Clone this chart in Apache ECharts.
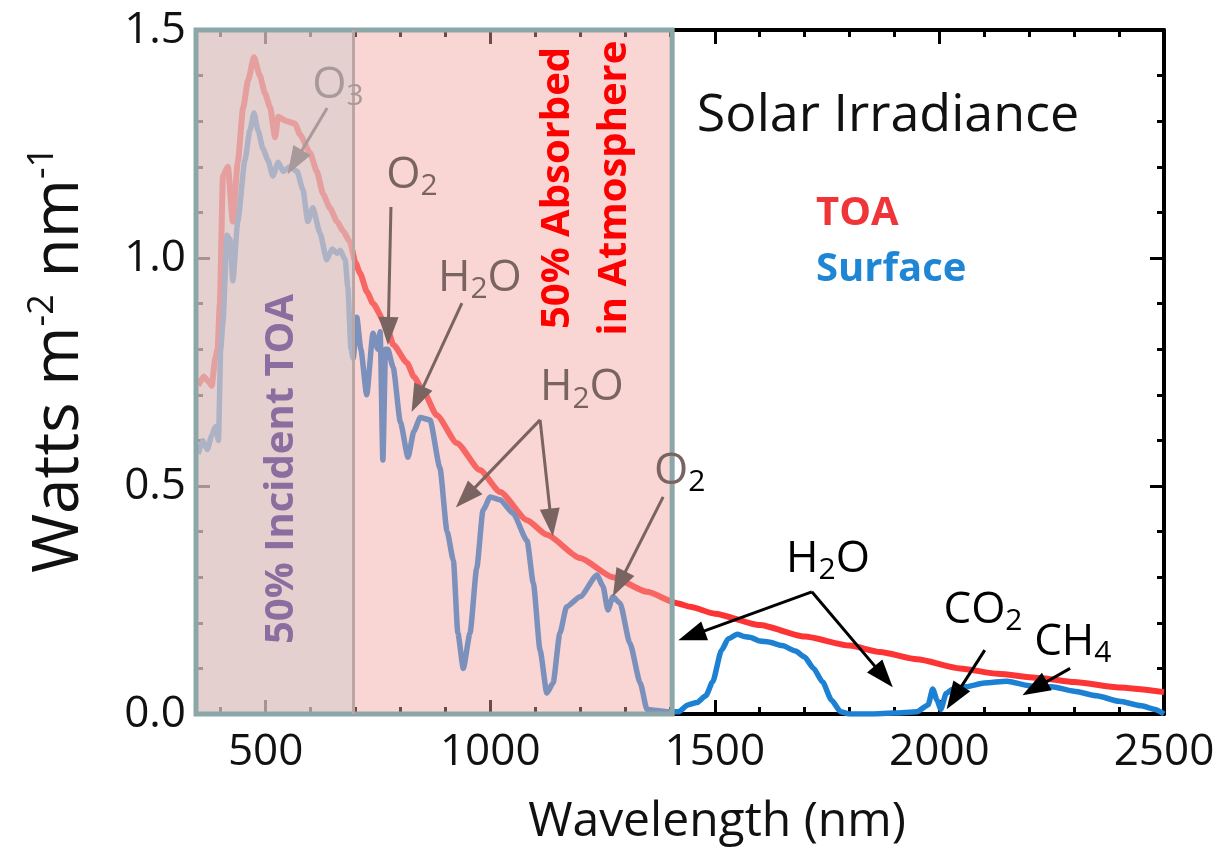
<!DOCTYPE html>
<html><head><meta charset="utf-8">
<script src="https://cdn.jsdelivr.net/npm/echarts@6.0.0/dist/echarts.min.js"></script>
<style>html,body{margin:0;padding:0;background:#fff}#c{width:1221px;height:859px}</style>
</head><body><div id="c"></div>
<script>
// ---------------- data ----------------
const toaWavelength = [350,362,372,380,388,393,398,405,416,427,438,450,461,474,487,499,510,521,528,547,565,577,599,614,628,643,659,672,688,700,710,726,739,770,784,815,830,850,881,926,977,1022,1082,1126,1200,1273,1349,1416,1445,1500,1600,1700,1800,1868,1950,2046,2130,2224,2300,2400,2500];
const toaIrradiance = [0.72,0.74,0.73,0.72,0.78,0.80,0.90,1.18,1.20,1.08,1.21,1.33,1.39,1.44,1.40,1.36,1.33,1.265,1.31,1.30,1.295,1.27,1.23,1.19,1.14,1.11,1.08,1.06,1.035,0.99,0.967,0.925,0.90,0.85,0.81,0.77,0.74,0.71,0.655,0.594,0.535,0.487,0.425,0.393,0.342,0.30,0.268,0.243,0.235,0.22,0.195,0.17,0.15,0.136,0.12,0.10,0.088,0.079,0.07,0.058,0.048];

const sfcWavelength = [350,360,370,380,388,395,400,405,414,421,427,438,454,465,474,483,494,505,516,528,539,554,570,583,594,605,621,636,648,659,666,677,683,690,695,703,712,725,739,750,755,761,767,772,784,800,817,830,844,866,888,904,918,928,940,955,970,984,1000,1022,1051,1082,1096,1111,1126,1140,1155,1170,1200,1238,1251,1262,1273,1289,1311,1334,1349,1393,1420,1440,1460,1480,1495,1515,1530,1550,1565,1580,1600,1620,1650,1680,1700,1720,1740,1760,1780,1800,1850,1900,1950,1975,1985,1995,2003,2015,2030,2060,2100,2150,2200,2220,2250,2300,2350,2400,2450,2480,2500];
const sfcIrradiance = [0.57,0.60,0.58,0.61,0.63,0.60,0.80,0.86,1.05,1.04,0.95,1.08,1.215,1.28,1.318,1.28,1.24,1.215,1.18,1.21,1.19,1.20,1.19,1.15,1.08,1.11,1.055,0.996,1.02,1.01,1.017,0.996,0.936,0.80,0.78,0.87,0.80,0.70,0.835,0.80,0.838,0.557,0.80,0.80,0.76,0.64,0.563,0.62,0.65,0.645,0.54,0.40,0.337,0.177,0.10,0.177,0.32,0.447,0.476,0.47,0.44,0.38,0.287,0.14,0.046,0.068,0.177,0.235,0.257,0.305,0.28,0.228,0.257,0.243,0.155,0.068,0.01,0.005,0.005,0.02,0.025,0.04,0.07,0.14,0.165,0.175,0.17,0.168,0.16,0.158,0.15,0.138,0.125,0.10,0.07,0.03,0.005,0.0,0.0,0.002,0.005,0.02,0.055,0.03,0.01,0.045,0.055,0.06,0.068,0.072,0.062,0.058,0.06,0.05,0.04,0.028,0.018,0.01,0.0];

const xMin = 345, xMax = 2500;
const xMajorTicks = [500,1000,1500,2000];
const xMinorTicks = [400,600,700,800,900,1100,1200,1300,1400,1600,1700,1800,1900,2100,2200,2300,2400];
const xTickLabels = [500,1000,1500,2000,2500];
const yMin = 0, yMax = 1.5, yStep = 0.5;

const regionIncident = [345, 695];
const regionAbsorbed = [695, 1405];

// annotation anchors in data space: [label, wavelength, value, tone]
const chemLabels = [
  ['O{s|3}', 661, 1.379, 'faint'],
  ['O{s|2}', 826, 1.182, 'mid'],
  ['H{s|2}O', 977, 0.956, 'mid'],
  ['H{s|2}O', 1204, 0.715, 'mid'],
  ['O{k|2}', 1422, 0.531, 'mid'],
  ['H{s|2}O', 1752, 0.338, 'dark'],
  ['CO{s|2}', 2097, 0.228, 'dark'],
  ['CH{s|4}', 2297, 0.156, 'dark']
];
// arrows: [fromWavelength, fromValue, toWavelength, toValue, tone]
const arrowList = [
  [637, 1.329, 565, 1.21, 'faint'],
  [779, 1.112, 773, 0.84, 'mid'],
  [937, 0.901, 838, 0.69, 'mid'],
  [1111, 0.645, 945, 0.475, 'mid'],
  [1111, 0.645, 1136, 0.42, 'mid'],
  [1385, 0.476, 1287, 0.285, 'mid'],
  [1716, 0.268, 1448, 0.172, 'dark'],
  [1716, 0.268, 1876, 0.082, 'dark'],
  [2101, 0.14, 2033, 0.036, 'dark'],
  [2291, 0.10, 2212, 0.056, 'dark']
];

// ---------------- styling ----------------
const FONT = "'Open Sans', 'Noto Sans', sans-serif";
const tone = { faint: '#a8999a', mid: '#7a6462', dark: '#000000' };

const zip = (a, b) => a.map((v, i) => [v, b[i]]);

function chemRich(color) {
  return {
    s: { fontSize: 30, lineHeight: 30, padding: [22, 0, 0, 0], color: color, fontFamily: FONT },
    k: { fontSize: 30, lineHeight: 30, padding: [22, 0, 0, 0], color: '#000', fontFamily: FONT }
  };
}

const markPointData = chemLabels.map(([txt, x, y, t]) => ({
  coord: [x, y],
  symbol: 'circle', symbolSize: 1,
  itemStyle: { color: 'rgba(0,0,0,0)' },
  label: {
    show: true, position: 'inside', formatter: txt,
    fontSize: 44, lineHeight: 52, color: tone[t], fontFamily: FONT,
    rich: chemRich(tone[t])
  }
}));

const markLineData = arrowList.map(([x1, y1, x2, y2, t]) => [
  { coord: [x1, y1], lineStyle: { color: tone[t], width: 3, type: 'solid' }, itemStyle: { color: tone[t] } },
  { coord: [x2, y2] }
]);

const axisBase = {
  type: 'value', min: xMin, max: xMax,
  splitLine: { show: false }
};

const option = {
  animation: false,
  backgroundColor: '#ffffff',
  grid: { left: 196, right: 57, top: 30, bottom: 145 },
  legend: {
    orient: 'vertical', left: 806, top: 186, itemGap: 10,
    itemWidth: 0, itemHeight: 0, icon: 'rect',
    selectedMode: false,
    textStyle: { fontSize: 40, fontWeight: 'bold', fontFamily: FONT, lineHeight: 46 },
    data: [
      { name: 'TOA', textStyle: { color: '#ef3538' } },
      { name: 'Surface', textStyle: { color: '#1e86d4' } }
    ]
  },
  xAxis: [
    Object.assign({}, axisBase, {
      position: 'bottom',
      axisLine: { show: true, lineStyle: { color: '#000', width: 4 } },
      axisTick: { show: true, inside: true, length: 14, customValues: xMajorTicks, lineStyle: { color: '#000', width: 3 } },
      axisLabel: { show: true, customValues: xTickLabels, fontSize: 44, color: '#111', margin: 16, fontFamily: FONT, formatter: v => String(Math.round(v)) },
      name: 'Wavelength (nm)', nameLocation: 'middle', nameGap: 84,
      nameTextStyle: { fontSize: 48, color: '#111', fontFamily: FONT, padding: [0, 0, 0, 74] }
    }),
    Object.assign({}, axisBase, {
      position: 'bottom',
      axisLine: { show: false },
      axisTick: { show: true, inside: true, length: 7, customValues: xMinorTicks, lineStyle: { color: '#000', width: 3 } },
      axisLabel: { show: false }
    }),
    Object.assign({}, axisBase, {
      position: 'top',
      axisLine: { show: true, lineStyle: { color: '#000', width: 4 } },
      axisTick: { show: true, inside: true, length: 14, customValues: xMajorTicks, lineStyle: { color: '#000', width: 3 } },
      axisLabel: { show: false }
    }),
    Object.assign({}, axisBase, {
      position: 'top',
      axisLine: { show: false },
      axisTick: { show: true, inside: true, length: 7, customValues: xMinorTicks, lineStyle: { color: '#000', width: 3 } },
      axisLabel: { show: false }
    })
  ],
  yAxis: [
    {
      type: 'value', min: yMin, max: yMax, interval: yStep, position: 'left',
      splitLine: { show: false },
      axisLine: { show: true, lineStyle: { color: '#000', width: 4 } },
      axisTick: { show: true, inside: true, length: 14, lineStyle: { color: '#000', width: 3 } },
      minorTick: { show: true, splitNumber: 5, length: 7, lineStyle: { color: '#000', width: 3 } },
      axisLabel: { fontSize: 44, color: '#111', margin: 10, fontFamily: FONT, formatter: v => v.toFixed(1) },
      name: 'Watts m{sup|-2} nm{sup|-1}', nameLocation: 'middle', nameGap: 100, nameRotate: 90,
      nameTextStyle: {
        fontSize: 64, color: '#111', fontFamily: FONT, lineHeight: 72, padding: [0, 0, 0, 24],
        rich: { sup: { fontSize: 36, lineHeight: 36, padding: [0, 0, 34, 0], color: '#111', fontFamily: FONT } }
      }
    },
    {
      type: 'value', min: yMin, max: yMax, interval: yStep, position: 'right',
      splitLine: { show: false },
      axisLine: { show: true, lineStyle: { color: '#000', width: 4 } },
      axisTick: { show: true, inside: true, length: 14, lineStyle: { color: '#000', width: 3 } },
      minorTick: { show: true, splitNumber: 5, length: 7, lineStyle: { color: '#000', width: 3 } },
      axisLabel: { show: false }
    }
  ],
  series: [
    {
      name: 'TOA', type: 'line', data: zip(toaWavelength, toaIrradiance),
      showSymbol: false, z: 2, smooth: 0.2, smoothMonotone: 'x',
      lineStyle: { color: '#fd3434', width: 6 }, itemStyle: { color: '#fd3434' }
    },
    {
      name: 'Surface', type: 'line', data: zip(sfcWavelength, sfcIrradiance),
      showSymbol: false, z: 2, smooth: 0.2, smoothMonotone: 'x',
      lineStyle: { color: '#1c80d3', width: 5.5 }, itemStyle: { color: '#1c80d3' }
    },
    {
      name: 'overlay', type: 'line', data: [], z: 3, silent: true,
      markArea: {
        silent: true, z: 3,
        data: [
          [{ xAxis: regionIncident[0], itemStyle: { color: 'rgba(220,193,192,0.76)' } }, { xAxis: regionIncident[1] }],
          [{ xAxis: regionAbsorbed[0], itemStyle: { color: 'rgba(242,164,160,0.45)' } }, { xAxis: regionAbsorbed[1] }],
          [{ xAxis: regionIncident[0], itemStyle: { color: 'rgba(0,0,0,0)', borderColor: '#8ca7a8', borderWidth: 5 } }, { xAxis: regionAbsorbed[1] }]
        ]
      },
      markLine: {
        silent: true, z: 4, symbol: ['none', 'none'], label: { show: false },
        data: [{ xAxis: regionIncident[1], lineStyle: { color: '#b9a6a5', width: 3, type: 'solid' } }]
      }
    },
    {
      name: 'annotations', type: 'line', data: [], z: 5, silent: true,
      markLine: {
        silent: true, z: 6, symbol: ['none', 'triangle'], symbolSize: [20, 28],
        label: { show: false },
        data: markLineData
      },
      markPoint: { silent: true, z: 6, data: markPointData }
    }
  ],
  graphic: [
    { type: 'text', x: 888, y: 116, z: 100, style: { text: 'Solar Irradiance', fontSize: 52, fontFamily: FONT, fill: '#111', align: 'center', verticalAlign: 'middle' } },
    { type: 'text', x: 558, y: 188, rotation: Math.PI / 2, z: 100, style: { text: '50% Absorbed', fontSize: 40, fontWeight: 'bold', fontFamily: FONT, fill: '#ff0000', align: 'center', verticalAlign: 'middle' } },
    { type: 'text', x: 615, y: 188, rotation: Math.PI / 2, z: 100, style: { text: 'in Atmosphere', fontSize: 40, fontWeight: 'bold', fontFamily: FONT, fill: '#ff0000', align: 'center', verticalAlign: 'middle' } },
    { type: 'text', x: 282, y: 469, rotation: Math.PI / 2, z: 100, style: { text: '50% Incident TOA', fontSize: 40, fontWeight: 'bold', fontFamily: FONT, fill: '#8c6d9f', align: 'center', verticalAlign: 'middle' } }
  ]
};

const chart = echarts.init(document.getElementById('c'), null, { renderer: 'canvas' });
chart.setOption(option);
</script>
</body></html>
